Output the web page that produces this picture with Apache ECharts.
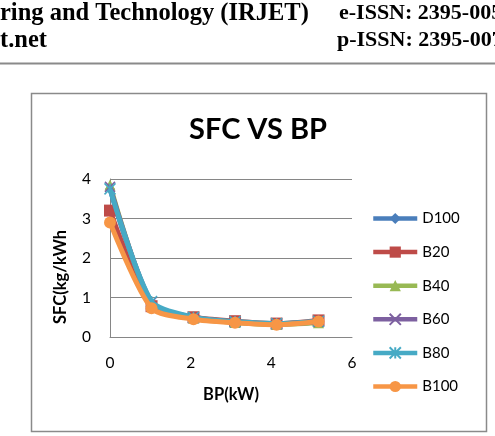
<!DOCTYPE html>
<html>
<head>
<meta charset="utf-8">
<script src="https://cdn.jsdelivr.net/npm/echarts@6/dist/echarts.min.js"></script>
<style>html,body{margin:0;padding:0;background:#fff}#c{width:495px;height:436px}</style>
</head>
<body>
<div id="c"></div>
<script>
var bpValues = [0, 1.03, 2.07, 3.1, 4.13, 5.17];
var D100 = [3.75, 0.85, 0.5, 0.38, 0.33, 0.38];
var B20  = [3.2, 0.78, 0.5, 0.4, 0.34, 0.42];
var B40  = [3.85, 0.85, 0.48, 0.37, 0.32, 0.36];
var B60  = [3.8, 0.88, 0.48, 0.38, 0.33, 0.38];
var B80  = [3.75, 0.9, 0.5, 0.39, 0.34, 0.4];
var B100 = [2.9, 0.73, 0.45, 0.36, 0.31, 0.39];
var seriesNames = ['D100', 'B20', 'B40', 'B60', 'B80', 'B100'];
var xTicks = [0, 2, 4, 6];
var yTicks = [0, 1, 2, 3, 4];

var allData = [D100, B20, B40, B60, B80, B100];
var colors = ['#4A7EBB', '#BE4B48', '#98B954', '#7D60A0', '#46AAC5', '#F79646'];
var symbols = ['diamond', 'rect', 'triangle',
  'path://M0,0L10,10M10,0L0,10',
  'path://M0,0L10,10M10,0L0,10M5,0L5,10',
  'circle'];
var sizes = [10, 12, 11, 10, 11, 12];

function pairs(ys) { return ys.map(function (y, i) { return [bpValues[i], y]; }); }

var series = seriesNames.map(function (n, i) {
  var stroked = i === 3 || i === 4;
  return {
    name: n,
    type: 'line',
    data: pairs(allData[i]),
    smooth: 0.25,
    symbol: symbols[i],
    symbolSize: sizes[i],
    lineStyle: { color: colors[i], width: 5 },
    itemStyle: stroked ? { color: colors[i], borderColor: colors[i], borderWidth: 1.5 } : { color: colors[i] },
    emphasis: { disabled: true },
    z: 2 + i
  };
});

var chart = echarts.init(document.getElementById('c'), null, { renderer: 'canvas' });
chart.setOption({
  animation: false,
  backgroundColor: '#fff',
  textStyle: { fontFamily: 'Lato' },
  title: {
    text: 'SFC VS BP',
    left: 184,
    top: 110,
    textStyle: { fontFamily: 'Lato', fontWeight: 'bold', fontSize: 29, color: '#000' }
  },
  graphic: [
    { type: 'text', left: 0, top: 1, style: { text: 'ring and Technology (IRJET)', font: 'bold 24.5px "Liberation Serif"', fill: '#000' } },
    { type: 'text', left: 339, top: 2, style: { text: 'e-ISSN: 2395-0056', font: 'bold 22px "Liberation Serif"', fill: '#000' } },
    { type: 'text', left: 0, top: 28, style: { text: 't.net', font: 'bold 24.5px "Liberation Serif"', fill: '#000' } },
    { type: 'text', left: 337, top: 29, style: { text: 'p-ISSN: 2395-0072', font: 'bold 22px "Liberation Serif"', fill: '#000' } },
    { type: 'rect', shape: { x: 0, y: 62.5, width: 495, height: 2 }, style: { fill: '#8a8a8a' } },
    { type: 'rect', shape: { x: 31.5, y: 93.5, width: 455, height: 338 }, style: { fill: 'none', stroke: '#8a8a8a', lineWidth: 1.5 }, z: -1 }
  ],
  legend: {
    orient: 'vertical',
    left: 366,
    top: 206,
    itemWidth: 44,
    itemHeight: 14,
    itemGap: 18.6,
    lineStyle: { width: 4.5 },
    textStyle: { fontFamily: 'Lato', fontSize: 15, color: '#000' },
    data: seriesNames
  },
  grid: { left: 110, right: 143, top: 179, bottom: 99 },
  xAxis: {
    type: 'value',
    min: xTicks[0],
    max: xTicks[xTicks.length - 1],
    interval: 2,
    name: 'BP(kW)',
    nameLocation: 'middle',
    nameGap: 49,
    nameTextStyle: { fontFamily: 'Lato', fontWeight: 'bold', fontSize: 16.5, color: '#000' },
    axisLine: { lineStyle: { color: '#868686', width: 1 } },
    axisTick: { show: false },
    splitLine: { show: false },
    axisLabel: { fontFamily: 'Lato', fontSize: 15.5, color: '#000', margin: 18 }
  },
  yAxis: {
    type: 'value',
    min: yTicks[0],
    max: yTicks[yTicks.length - 1],
    interval: 1,
    name: 'SFC(kg/kWh',
    nameLocation: 'middle',
    nameGap: 41,
    nameTextStyle: { fontFamily: 'Lato', fontWeight: 'bold', fontSize: 16.5, color: '#000', padding: [0, 38, 0, 0] },
    axisLine: { show: true, lineStyle: { color: '#868686', width: 1 } },
    axisTick: { show: false },
    splitLine: { lineStyle: { color: '#868686', width: 1 } },
    axisLabel: { fontFamily: 'Lato', fontSize: 15.5, color: '#000', margin: 19 }
  },
  series: series
});
</script>
</body>
</html>
